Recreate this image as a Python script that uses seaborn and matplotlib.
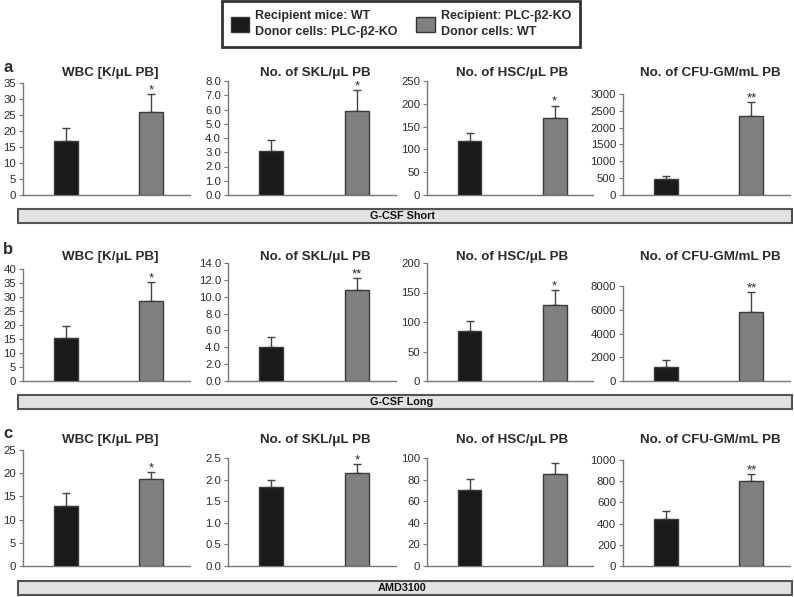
import numpy as np
import pandas as pd
import matplotlib
matplotlib.use("Agg")
import matplotlib.pyplot as plt
from matplotlib.patches import Patch, Rectangle
import seaborn as sns

# ---------------- data ----------------
groups = ["Recipient mice: WT\nDonor cells: PLC-β2-KO", "Recipient: PLC-β2-KO\nDonor cells: WT"]
titles = ["WBC [K/μL PB]", "No. of SKL/μL PB", "No. of HSC/μL PB", "No. of CFU-GM/mL PB"]
row_labels = ["a", "b", "c"]
band_labels = ["G-CSF Short", "G-CSF Long", "AMD3100"]

# row a: G-CSF Short
a_means = [[17.0, 26.0], [3.1, 5.9], [118, 168], [490, 2360]]
a_errs = [[3.8, 5.5], [0.75, 1.45], [18, 28], [70, 390]]
a_sig = [["", "*"], ["", "*"], ["", "*"], ["", "**"]]
a_ymax = [35, 8.0, 250, 3000]
a_ystep = [5, 1.0, 50, 500]

# row b: G-CSF Long
b_means = [[15.2, 28.5], [4.05, 10.8], [85, 128], [1200, 5800]]
b_errs = [[4.3, 6.8], [1.2, 1.4], [17, 26], [600, 1700]]
b_sig = [["", "*"], ["", "**"], ["", "*"], ["", "**"]]
b_ymax = [40, 14.0, 200, 8000]
b_ystep = [5, 2.0, 50, 2000]

# row c: AMD3100
c_means = [[13.0, 18.8], [1.82, 2.15], [70, 85], [445, 800]]
c_errs = [[2.7, 1.4], [0.17, 0.2], [11, 10], [75, 70]]
c_sig = [["", "*"], ["", "*"], ["", ""], ["", "**"]]
c_ymax = [25, 2.5, 100, 1000]
c_ystep = [5, 0.5, 20, 200]

tick_fmt = ["{:.0f}", "{:.1f}", "{:.0f}", "{:.0f}"]

# ---------------- style ----------------
sns.set_theme(style="white")
plt.rcParams["font.family"] = ["Liberation Sans", "DejaVu Sans"]
TXT = "#2b2b2b"
BLACK = "#1a1a1a"
GRAY = "#808080"
W, H = 794, 597
fig = plt.figure(figsize=(W / 100, H / 100), dpi=100)


def rect(l, t, r, b):
    return [l / W, 1 - b / H, (r - l) / W, (b - t) / H]


lefts = [23, 228, 427, 623]
rights = [190, 396, 593, 790]
title_x = [110, 315, 512, 710]
rows = [
    dict(means=a_means, errs=a_errs, sig=a_sig, ymax=a_ymax, ystep=a_ystep,
         tops=[83, 81, 81, 94], bottom=195, title_y=73, label_y=67, band=(209, 223)),
    dict(means=b_means, errs=b_errs, sig=b_sig, ymax=b_ymax, ystep=b_ystep,
         tops=[269, 263, 263, 286], bottom=381, title_y=257, label_y=250, band=(395, 409)),
    dict(means=c_means, errs=c_errs, sig=c_sig, ymax=c_ymax, ystep=c_ystep,
         tops=[450, 458, 458, 460], bottom=566, title_y=440, label_y=433, band=(581, 595)),
]

for ri, row in enumerate(rows):
    for ci in range(4):
        ax = fig.add_axes(rect(lefts[ci], row["tops"][ci], rights[ci], row["bottom"]))
        df = pd.DataFrame({"group": groups, "value": row["means"][ci]})
        sns.barplot(data=df, x="group", y="value", hue="group", palette=[BLACK, GRAY],
                    width=0.28, edgecolor="#3a3a3a", linewidth=1.0, errorbar=None,
                    legend=False, ax=ax, zorder=3)
        ax.errorbar([0, 1], row["means"][ci], yerr=[[0, 0], row["errs"][ci]], fmt="none",
                    ecolor="#444444", elinewidth=1.0, capsize=3, capthick=1.0, zorder=2)
        for xi in range(2):
            s = row["sig"][ci][xi]
            if s:
                ax.annotate(s, (xi, row["means"][ci][xi] + row["errs"][ci][xi]),
                            xytext=(0, 0.5), textcoords="offset points", ha="center",
                            va="baseline", fontsize=9.5, color=TXT)
        ax.set_xlim(-0.5, 1.45)
        ax.set_ylim(0, row["ymax"][ci])
        ticks = np.arange(0, row["ymax"][ci] + row["ystep"][ci] / 2, row["ystep"][ci])
        ax.set_yticks(ticks)
        ax.set_yticklabels([tick_fmt[ci].format(t) for t in ticks], fontsize=8.2, color=TXT)
        ax.set_xticks([])
        ax.set_xlabel("")
        ax.set_ylabel("")
        for sp in ["top", "right"]:
            ax.spines[sp].set_visible(False)
        for sp in ["left", "bottom"]:
            ax.spines[sp].set_color("#777777")
            ax.spines[sp].set_linewidth(1.0)
        ax.tick_params(axis="y", length=3, width=0.8, color="#777777", pad=2, left=True)
        ax.patch.set_alpha(0)
        fig.text(title_x[ci] / W, 1 - row["title_y"] / H, titles[ci], ha="center",
                 va="center", fontsize=9.6, fontweight="bold", color=TXT)
    fig.text(3 / W, 1 - row["label_y"] / H, row_labels[ri], ha="left", va="center",
             fontsize=12, fontweight="bold", color=TXT)
    bt, bb = row["band"]
    fig.patches.append(Rectangle((18 / W, 1 - bb / H), (792 - 18) / W, (bb - bt) / H,
                                 transform=fig.transFigure, facecolor="#e2e2e2",
                                 edgecolor="#555555", linewidth=1.5))
    fig.text(402 / W, 1 - (bt + bb) / 2 / H, band_labels[ri], ha="center", va="center",
             fontsize=7.8, fontweight="bold", color="#111111")

handles = [Patch(facecolor=BLACK, edgecolor="#333333"), Patch(facecolor=GRAY, edgecolor="#333333")]
leg = fig.legend(handles, groups, ncol=2, loc="upper center",
                 bbox_to_anchor=(401 / W, 1.0), borderaxespad=0.1, frameon=True,
                 fancybox=False, fontsize=9, handlelength=1.45, handleheight=1.5,
                 columnspacing=1.5, handletextpad=0.5, borderpad=0.7, labelspacing=0.2)
leg.get_frame().set_edgecolor("black")
leg.get_frame().set_linewidth(2.0)
for t in leg.get_texts():
    t.set_fontweight("bold")
    t.set_color(TXT)
    t.set_linespacing(1.45)

fig.savefig("out.png", dpi=100)
